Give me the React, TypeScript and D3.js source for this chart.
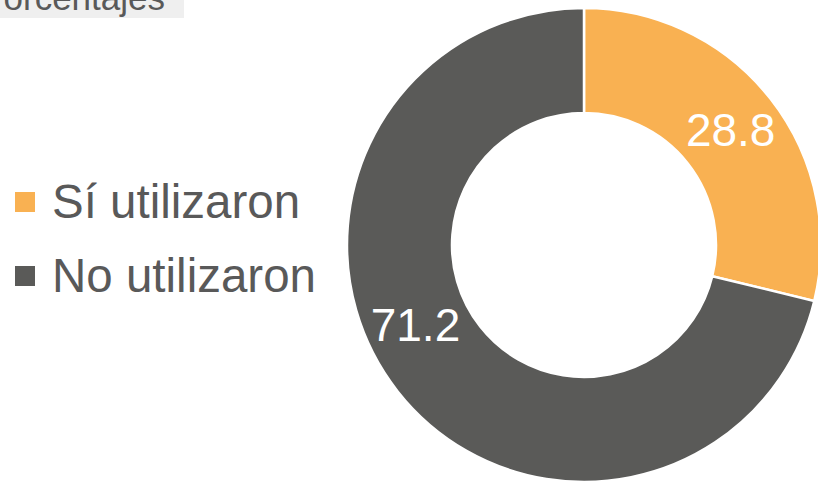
import React from "react";
import * as d3 from "d3";

const categories = ["Sí utilizaron", "No utilizaron"];
const values = [28.8, 71.2];
const colors = ["#F9B152", "#5A5A58"];
const labelFractions = [0.5, 0.55];
const title = "Porcentajes";

const W = 818;
const H = 484;

export default function App() {
  const cx = 584;
  const cy = 245;
  const outerR = 237;
  const innerR = 132;
  const pie = d3.pie<number>().sort(null).value((d) => d)(values);
  const arc = d3.arc<d3.PieArcDatum<number>>().innerRadius(innerR).outerRadius(outerR);
  const labelR = (innerR + outerR) / 2 + 2;
  const font = "'Liberation Sans', Arial, sans-serif";

  return (
    <svg
      width={W}
      height={H}
      style={{ position: "absolute", left: 0, top: 0, background: "#fff" }}
      fontFamily={font}
    >
      <rect x={0} y={0} width={184} height={18} fill="#EFEFEF" />
      <text x={165} y={10} textAnchor="end" fontSize={35} fill="#595959">
        {title}
      </text>
      <g transform={`translate(${cx},${cy})`}>
        {pie.map((p, i) => (
          <path key={i} d={arc(p) || ""} fill={colors[i]} stroke="#fff" strokeWidth={2.5} />
        ))}
        {pie.map((p, i) => {
          const a = p.startAngle + (p.endAngle - p.startAngle) * labelFractions[i];
          const x = labelR * Math.sin(a);
          const y = -labelR * Math.cos(a);
          return (
            <text
              key={i}
              x={x}
              y={y + 16}
              textAnchor="middle"
              fontSize={46}
              fill="#fff"
            >
              {values[i].toFixed(1)}
            </text>
          );
        })}
      </g>
      {categories.map((c, i) => (
        <g key={c} transform={`translate(0,${218 + i * 74})`}>
          <rect x={15} y={-26} width={20} height={20} fill={colors[i]} />
          <text x={52} y={0} fontSize={47.5} fill="#595959">
            {c}
          </text>
        </g>
      ))}
    </svg>
  );
}
